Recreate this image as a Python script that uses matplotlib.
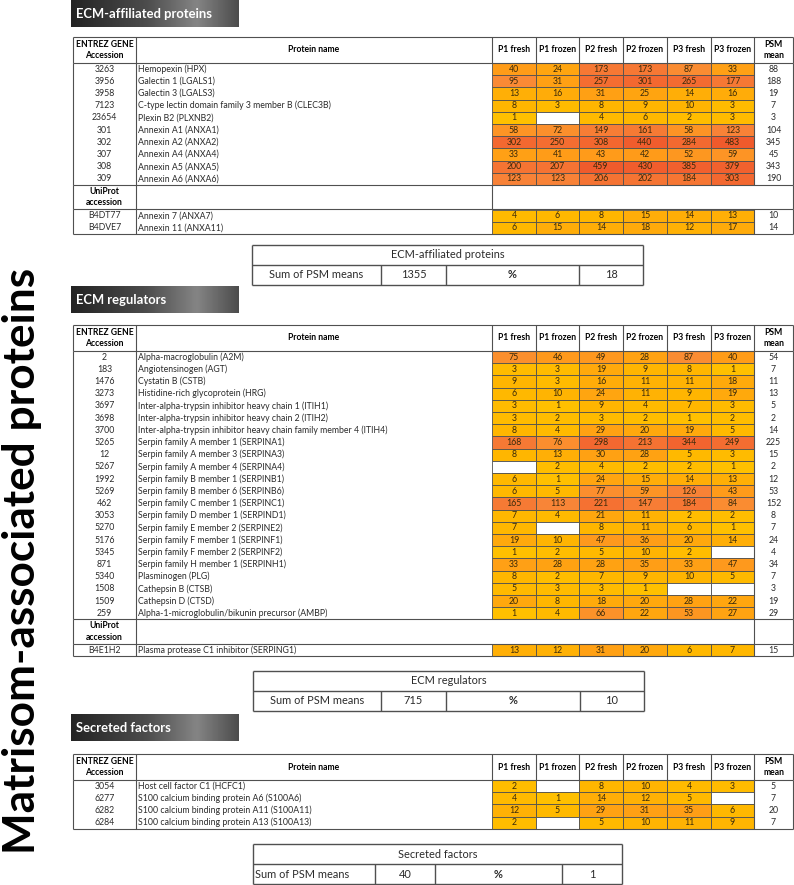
import numpy as np
import matplotlib
matplotlib.use('Agg')
import matplotlib.pyplot as plt
from matplotlib.patches import Rectangle
from matplotlib.colors import LinearSegmentedColormap

plt.rcParams['font.family'] = ['Lato', 'DejaVu Sans']

# ---------------- data ----------------
columns = ['P1 fresh', 'P1 frozen', 'P2 fresh', 'P2 frozen', 'P3 fresh', 'P3 frozen']

aff_acc = ['3263', '3956', '3958', '7123', '23654', '301', '302', '307', '308', '309']
aff_names = ['Hemopexin (HPX)', 'Galectin 1 (LGALS1)', 'Galectin 3 (LGALS3)',
             'C-type lectin domain family 3 member B (CLEC3B)', 'Plexin B2 (PLXNB2)',
             'Annexin A1 (ANXA1)', 'Annexin A2 (ANXA2)', 'Annexin A4 (ANXA4)',
             'Annexin A5 (ANXA5)', 'Annexin A6 (ANXA6)']
aff_vals = [[40, 24, 173, 173, 87, 33], [95, 31, 257, 301, 265, 177], [13, 16, 31, 25, 14, 16],
            [8, 3, 8, 9, 10, 3], [1, None, 4, 6, 2, 3], [58, 72, 149, 161, 58, 123],
            [302, 250, 308, 440, 284, 483], [33, 41, 43, 42, 52, 59],
            [200, 207, 459, 430, 385, 379], [123, 123, 206, 202, 184, 303]]
aff_mean = [88, 188, 19, 7, 3, 104, 345, 45, 343, 190]
aff_uni_acc = ['B4DT77', 'B4DVE7']
aff_uni_names = ['Annexin 7 (ANXA7)', 'Annexin 11 (ANXA11)']
aff_uni_vals = [[4, 6, 8, 15, 14, 13], [6, 15, 14, 18, 12, 17]]
aff_uni_mean = [10, 14]
aff_sum, aff_pct = 1355, 18

reg_acc = ['2', '183', '1476', '3273', '3697', '3698', '3700', '5265', '12', '5267', '1992',
           '5269', '462', '3053', '5270', '5176', '5345', '871', '5340', '1508', '1509', '259']
reg_names = ['Alpha-macroglobulin (A2M)', 'Angiotensinogen (AGT)', 'Cystatin B (CSTB)',
             'Histidine-rich glycoprotein (HRG)',
             'Inter-alpha-trypsin inhibitor heavy chain 1 (ITIH1)',
             'Inter-alpha-trypsin inhibitor heavy chain 2 (ITIH2)',
             'Inter-alpha-trypsin inhibitor heavy chain family member 4 (ITIH4)',
             'Serpin family A member 1 (SERPINA1)', 'Serpin family A member 3 (SERPINA3)',
             'Serpin family A member 4 (SERPINA4)', 'Serpin family B member 1 (SERPINB1)',
             'Serpin family B member 6 (SERPINB6)', 'Serpin family C member 1 (SERPINC1)',
             'Serpin family D member 1 (SERPIND1)', 'Serpin family E member 2 (SERPINE2)',
             'Serpin family F member 1 (SERPINF1)', 'Serpin family F member 2 (SERPINF2)',
             'Serpin family H member 1 (SERPINH1)', 'Plasminogen (PLG)', 'Cathepsin B (CTSB)',
             'Cathepsin D (CTSD)', 'Alpha-1-microglobulin/bikunin precursor (AMBP)']
reg_vals = [[75, 46, 49, 28, 87, 40], [3, 3, 19, 9, 8, 1], [9, 3, 16, 11, 11, 18],
            [6, 10, 24, 11, 9, 19], [3, 1, 9, 4, 7, 3], [3, 2, 3, 2, 1, 2],
            [8, 4, 29, 20, 19, 5], [168, 76, 298, 213, 344, 249], [8, 13, 30, 28, 5, 3],
            [None, 2, 4, 2, 2, 1], [6, 1, 24, 15, 14, 13], [6, 5, 77, 59, 126, 43],
            [165, 113, 221, 147, 184, 84], [7, 4, 21, 11, 2, 2], [7, None, 8, 11, 6, 1],
            [19, 10, 47, 36, 20, 14], [1, 2, 5, 10, 2, None], [33, 28, 28, 35, 33, 47],
            [8, 2, 7, 9, 10, 5], [5, 3, 3, 1, None, None], [20, 8, 18, 20, 28, 22],
            [1, 4, 66, 22, 53, 27]]
reg_mean = [54, 7, 11, 13, 5, 2, 14, 225, 15, 2, 12, 53, 152, 8, 7, 24, 4, 34, 7, 3, 19, 29]
reg_uni_acc = ['B4E1H2']
reg_uni_names = ['Plasma protease C1 inhibitor (SERPING1)']
reg_uni_vals = [[13, 12, 31, 20, 6, 7]]
reg_uni_mean = [15]
reg_sum, reg_pct = 715, 10

sec_acc = ['3054', '6277', '6282', '6284']
sec_names = ['Host cell factor C1 (HCFC1)', 'S100 calcium binding protein A6 (S100A6)',
             'S100 calcium binding protein A11 (S100A11)',
             'S100 calcium binding protein A13 (S100A13)']
sec_vals = [[2, None, 8, 10, 4, 3], [4, 1, 14, 12, 5, None], [12, 5, 29, 31, 35, 6],
            [2, None, 5, 10, 11, 9]]
sec_mean = [5, 7, 20, 7]
sec_sum, sec_pct = 40, 1

# ---------------- layout (pixels) ----------------
W, H = 794, 885
X_ACC, X_NAME = 73, 136
X_COLS = [492, 536, 579, 623, 667, 711, 754]
X_END = 793
ROW_H = 12.2
HEAD_H = 26
UNI_H = 24.5
LINE = '#505050'
TXT = '#2b2b2b'

heat = LinearSegmentedColormap.from_list(
    'heat', [(0, '#FFC000'), (0.35, '#FFB600'), (0.6, '#FF9C18'),
             (0.75, '#F98838'), (1, '#F05A2C')])


def cell_color(v):
    return heat(np.log(v) / np.log(483))


fig = plt.figure(figsize=(W / 100, H / 100), dpi=100)
ax = fig.add_axes([0, 0, 1, 1])
ax.set_xlim(0, W)
ax.set_ylim(H, 0)
ax.axis('off')
renderer = fig.canvas.get_renderer()


def fit_size(txt, width, **kw):
    t = ax.text(0, 0, txt, fontsize=10, **kw)
    w = t.get_window_extent(renderer).width
    t.remove()
    return 10 * width / w


FS_NAME = fit_size('Inter-alpha-trypsin inhibitor heavy chain family member 4 (ITIH4)', 249)
FS_HEAD = fit_size('P1 frozen', 37, fontweight='bold')
FS_SUM = fit_size('Sum of PSM means', 94)
FS_BANNER = fit_size('ECM-affiliated proteins', 136, fontweight='bold')
FS_SIDE = fit_size('Matrisom-associated proteins', 587, fontweight='bold')


def hline(y, x0, x1, lw=0.8):
    ax.plot([x0, x1], [y, y], color=LINE, lw=lw, solid_capstyle='butt')


def vline(x, y0, y1, lw=0.8):
    ax.plot([x, x], [y0, y1], color=LINE, lw=lw, solid_capstyle='butt')


def banner(y0, text):
    grad = np.interp(np.linspace(0, 1, 200), [0, 0.45, 0.75, 1], [0.14, 0.3, 0.52, 0.3])
    img = np.repeat(grad[None, :], 2, axis=0)
    ax.imshow(img, cmap='gray', vmin=0, vmax=1, aspect='auto',
              extent=[71, 239, y0 + 27, y0], zorder=1)
    ax.text(76, y0 + 13.5, text, color='white', fontsize=FS_BANNER, fontweight='bold',
            va='center', ha='left', zorder=2)


def data_row(y, acc, name, vals, mean):
    yc = y + ROW_H / 2
    ax.text((X_ACC + X_NAME) / 2, yc, acc, fontsize=FS_NAME, ha='center', va='center', color=TXT)
    ax.text(X_NAME + 2, yc, name, fontsize=FS_NAME, ha='left', va='center', color=TXT)
    for j, v in enumerate(vals):
        x0, x1 = X_COLS[j], X_COLS[j + 1]
        fc = 'white' if v is None else cell_color(v)
        ax.add_patch(Rectangle((x0, y), x1 - x0, ROW_H, facecolor=fc, edgecolor=LINE, lw=0.6))
        if v is not None:
            ax.text((x0 + x1) / 2, yc, str(v), fontsize=FS_NAME, ha='center', va='center',
                    color='#3a2a0a')
    ax.text((X_COLS[-1] + X_END) / 2, yc, str(mean), fontsize=FS_NAME, ha='center',
            va='center', color=TXT)


def draw_table(top, acc, names, vals, means, uni=None, uni_x=None):
    # header
    hb = top + HEAD_H
    hline(top, X_ACC, X_END)
    hline(hb, X_ACC, X_END)
    for x in [X_ACC, X_NAME] + X_COLS + [X_END]:
        vline(x, top, hb)
    yc = top + HEAD_H / 2
    ax.text((X_ACC + X_NAME) / 2, yc, 'ENTREZ GENE\nAccession', fontsize=FS_HEAD,
            fontweight='bold', ha='center', va='center', linespacing=1.3, color='black')
    ax.text((X_NAME + X_COLS[0]) / 2, yc, 'Protein name', fontsize=FS_HEAD,
            fontweight='bold', ha='center', va='center', color='black')
    for j, c in enumerate(columns):
        ax.text((X_COLS[j] + X_COLS[j + 1]) / 2, yc, c, fontsize=FS_HEAD,
                fontweight='bold', ha='center', va='center', color='black')
    ax.text((X_COLS[-1] + X_END) / 2, yc, 'PSM\nmean', fontsize=FS_HEAD,
            fontweight='bold', ha='center', va='center', linespacing=1.3, color='black')

    y = hb
    for i in range(len(acc)):
        data_row(y, acc[i], names[i], vals[i], means[i])
        y += ROW_H
    for x in [X_ACC, X_NAME, X_COLS[-1], X_END]:
        vline(x, hb, y)

    if uni is not None:
        u_acc, u_names, u_vals, u_mean = uni
        hline(y, X_ACC, X_END)
        hline(y + UNI_H, X_ACC, X_END)
        for x in [X_ACC, X_NAME, uni_x, X_END]:
            vline(x, y, y + UNI_H)
        ax.text((X_ACC + X_NAME) / 2, y + UNI_H / 2, 'UniProt\naccession', fontsize=FS_HEAD,
                fontweight='bold', ha='center', va='center', linespacing=1.35, color='black')
        y += UNI_H
        y0 = y
        for i in range(len(u_acc)):
            data_row(y, u_acc[i], u_names[i], u_vals[i], u_mean[i])
            y += ROW_H
        for x in [X_ACC, X_NAME, X_COLS[-1], X_END]:
            vline(x, y0, y)
    hline(y, X_ACC, X_END)


def draw_summary(edges, top, title, total, pct, left_label=False):
    rh = 20
    lw = 1.0
    for yy in [top, top + rh, top + 2 * rh]:
        hline(yy, edges[0], edges[-1], lw=lw)
    vline(edges[0], top, top + 2 * rh, lw=lw)
    vline(edges[-1], top, top + 2 * rh, lw=lw)
    for x in edges[1:-1]:
        vline(x, top + rh, top + 2 * rh, lw=lw)
    ax.text((edges[0] + edges[-1]) / 2, top + rh / 2, title, fontsize=FS_SUM,
            ha='center', va='center', color=TXT)
    yc = top + 1.5 * rh
    if left_label:
        ax.text(edges[0] + 2, yc, 'Sum of PSM means', fontsize=FS_SUM, ha='left',
                va='center', color=TXT)
    else:
        ax.text((edges[0] + edges[1]) / 2, yc, 'Sum of PSM means', fontsize=FS_SUM,
                ha='center', va='center', color=TXT)
    ax.text((edges[1] + edges[2]) / 2, yc, str(total), fontsize=FS_SUM,
            ha='center', va='center', color=TXT)
    ax.text((edges[2] + edges[3]) / 2, yc, '%', fontsize=FS_SUM, fontweight='bold',
            ha='center', va='center', color=TXT)
    ax.text((edges[3] + edges[4]) / 2, yc, str(pct), fontsize=FS_SUM,
            ha='center', va='center', color=TXT)


# ---------------- drawing ----------------
banner(0, 'ECM-affiliated proteins')
draw_table(37, aff_acc, aff_names, aff_vals, aff_mean,
           uni=(aff_uni_acc, aff_uni_names, aff_uni_vals, aff_uni_mean), uni_x=X_COLS[0])
draw_summary([252, 381, 446, 579, 643], 245, 'ECM-affiliated proteins', aff_sum, aff_pct)

banner(286, 'ECM regulators')
draw_table(325, reg_acc, reg_names, reg_vals, reg_mean,
           uni=(reg_uni_acc, reg_uni_names, reg_uni_vals, reg_uni_mean), uni_x=X_COLS[-1])
draw_summary([253, 381, 446, 580, 644], 671, 'ECM regulators', reg_sum, reg_pct)

banner(714, 'Secreted factors')
draw_table(754, sec_acc, sec_names, sec_vals, sec_mean)
draw_summary([253, 375, 435, 562, 622], 844, 'Secreted factors', sec_sum, sec_pct,
             left_label=True)

ax.text(22, 561, 'Matrisom-associated proteins', fontsize=FS_SIDE, fontweight='bold',
        rotation=90, ha='center', va='center', color='black')

fig.savefig('out.png', dpi=100)
